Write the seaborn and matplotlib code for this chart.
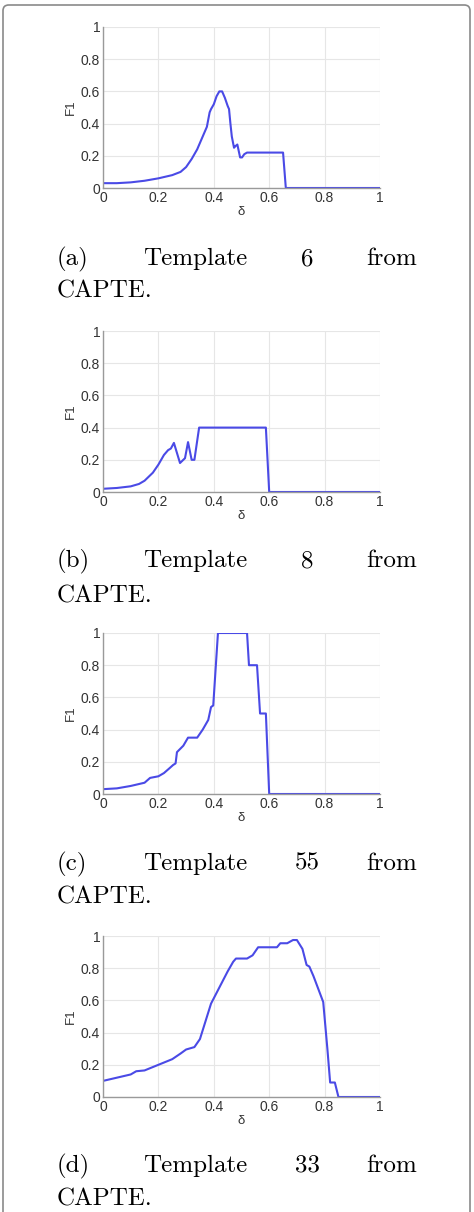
import matplotlib
matplotlib.use('Agg')
import matplotlib.pyplot as plt
import seaborn as sns
from matplotlib.patches import FancyBboxPatch

# F1 vs delta for four CAPTE templates
delta_a = [0, 0.05, 0.1, 0.15, 0.2, 0.25, 0.28, 0.3, 0.32, 0.34, 0.36, 0.375, 0.385, 0.39,
           0.4, 0.41, 0.42, 0.43, 0.44, 0.45, 0.455, 0.46, 0.465, 0.473, 0.478, 0.485,
           0.49, 0.495, 0.502, 0.51, 0.52, 0.65, 0.66, 1.0]
f1_a = [0.03, 0.03, 0.035, 0.045, 0.06, 0.08, 0.1, 0.13, 0.18, 0.24, 0.32, 0.38, 0.47, 0.49,
        0.52, 0.57, 0.6, 0.6, 0.56, 0.51, 0.49, 0.4, 0.32, 0.25, 0.26, 0.27,
        0.23, 0.19, 0.19, 0.21, 0.22, 0.22, 0.0, 0.0]

delta_b = [0, 0.05, 0.1, 0.13, 0.15, 0.18, 0.2, 0.22, 0.235, 0.245, 0.256, 0.278, 0.296,
           0.307, 0.32, 0.33, 0.347, 0.588, 0.6, 1.0]
f1_b = [0.02, 0.025, 0.035, 0.05, 0.07, 0.12, 0.17, 0.23, 0.26, 0.27, 0.305, 0.18, 0.21,
        0.31, 0.2, 0.2, 0.4, 0.4, 0.0, 0.0]

delta_c = [0, 0.05, 0.1, 0.15, 0.17, 0.2, 0.22, 0.24, 0.253, 0.262, 0.267, 0.29, 0.307,
           0.34, 0.36, 0.38, 0.39, 0.398, 0.415, 0.52, 0.527, 0.556, 0.567, 0.588, 0.6, 1.0]
f1_c = [0.03, 0.035, 0.05, 0.07, 0.1, 0.11, 0.13, 0.16, 0.18, 0.19, 0.26, 0.3, 0.35,
        0.35, 0.4, 0.46, 0.54, 0.55, 1.0, 1.0, 0.8, 0.8, 0.5, 0.5, 0.0, 0.0]

delta_d = [0, 0.05, 0.1, 0.12, 0.15, 0.2, 0.25, 0.28, 0.3, 0.33, 0.35, 0.37, 0.39, 0.42,
           0.45, 0.47, 0.48, 0.52, 0.54, 0.56, 0.628, 0.64, 0.665, 0.686, 0.7, 0.72,
           0.735, 0.745, 0.76, 0.795, 0.81, 0.82, 0.837, 0.85, 1.0]
f1_d = [0.1, 0.12, 0.14, 0.16, 0.165, 0.2, 0.235, 0.27, 0.295, 0.31, 0.36, 0.47, 0.58, 0.68,
        0.78, 0.84, 0.86, 0.86, 0.88, 0.93, 0.93, 0.955, 0.955, 0.975, 0.975, 0.92,
        0.82, 0.81, 0.75, 0.59, 0.3, 0.09, 0.09, 0.0, 0.0]

panels = [
    (delta_a, f1_a, ['(a)', 'Template', '6', 'from']),
    (delta_b, f1_b, ['(b)', 'Template', '8', 'from']),
    (delta_c, f1_c, ['(c)', 'Template', '55', 'from']),
    (delta_d, f1_d, ['(d)', 'Template', '33', 'from']),
]
ticks = [0, 0.2, 0.4, 0.6, 0.8, 1]
tick_labels = ['0', '0.2', '0.4', '0.6', '0.8', '1']

sns.set_style('whitegrid')
plt.rcParams['font.family'] = ['Liberation Sans', 'DejaVu Sans']

W, H = 474, 1212
fig = plt.figure(figsize=(W / 100, H / 100), dpi=100)

# rounded frame around the whole figure
frame = FancyBboxPatch((3 / W, -0.05), 467 / W, 1 - 5 / H + 0.05,
                       boxstyle='round,pad=0,rounding_size=0.012',
                       transform=fig.transFigure, fill=False,
                       edgecolor='#8a8a8a', lw=1.2, mutation_aspect=W / H)
fig.patches.append(frame)

axis_bottoms = [188, 492, 794, 1097]   # pixel rows of y=0
caption_lines = [(265, 298), (567, 602), (870, 903), (1172, 1205)]

for (x, y, words), yb, (l1, l2) in zip(panels, axis_bottoms, caption_lines):
    ax = fig.add_axes([103 / W, 1 - yb / H, 277 / W, 161 / H])
    sns.lineplot(x=x, y=y, ax=ax, color='#4a4ae6', lw=1.5, estimator=None, sort=False)
    ax.set_xlim(0, 1)
    ax.set_ylim(0, 1)
    ax.set_xticks(ticks)
    ax.set_xticklabels(tick_labels)
    ax.set_yticks(ticks)
    ax.set_yticklabels(tick_labels)
    ax.grid(True, color='#e6e6e6', lw=0.8)
    for s in ['top', 'right']:
        ax.spines[s].set_visible(False)
    for s in ['left', 'bottom']:
        ax.spines[s].set_color('#9a9a9a')
        ax.spines[s].set_linewidth(1.0)
    ax.tick_params(direction='in', length=3, width=0.8, color='#9a9a9a',
                   labelsize=10, labelcolor='#333333', pad=2)
    ax.set_xlabel('δ', fontsize=9.5, color='#333333', labelpad=1)
    ax.set_ylabel('F1', fontsize=9.5, color='#333333', labelpad=3)

    # caption, justified like the paper
    ty1 = 1 - l1 / H
    ty2 = 1 - l2 / H
    kw = dict(fontsize=18, family='cmr10', color='#000000', va='baseline')
    fig.text(57 / W, ty1, words[0], ha='left', **kw)
    fig.text(195 / W, ty1, words[1], ha='center', **kw)
    fig.text(307 / W, ty1, words[2], ha='center', **kw)
    fig.text(417 / W, ty1, words[3], ha='right', **kw)
    fig.text(57 / W, ty2, 'CAPTE.', ha='left', **kw)

fig.savefig('out.png', dpi=100, facecolor='white')
